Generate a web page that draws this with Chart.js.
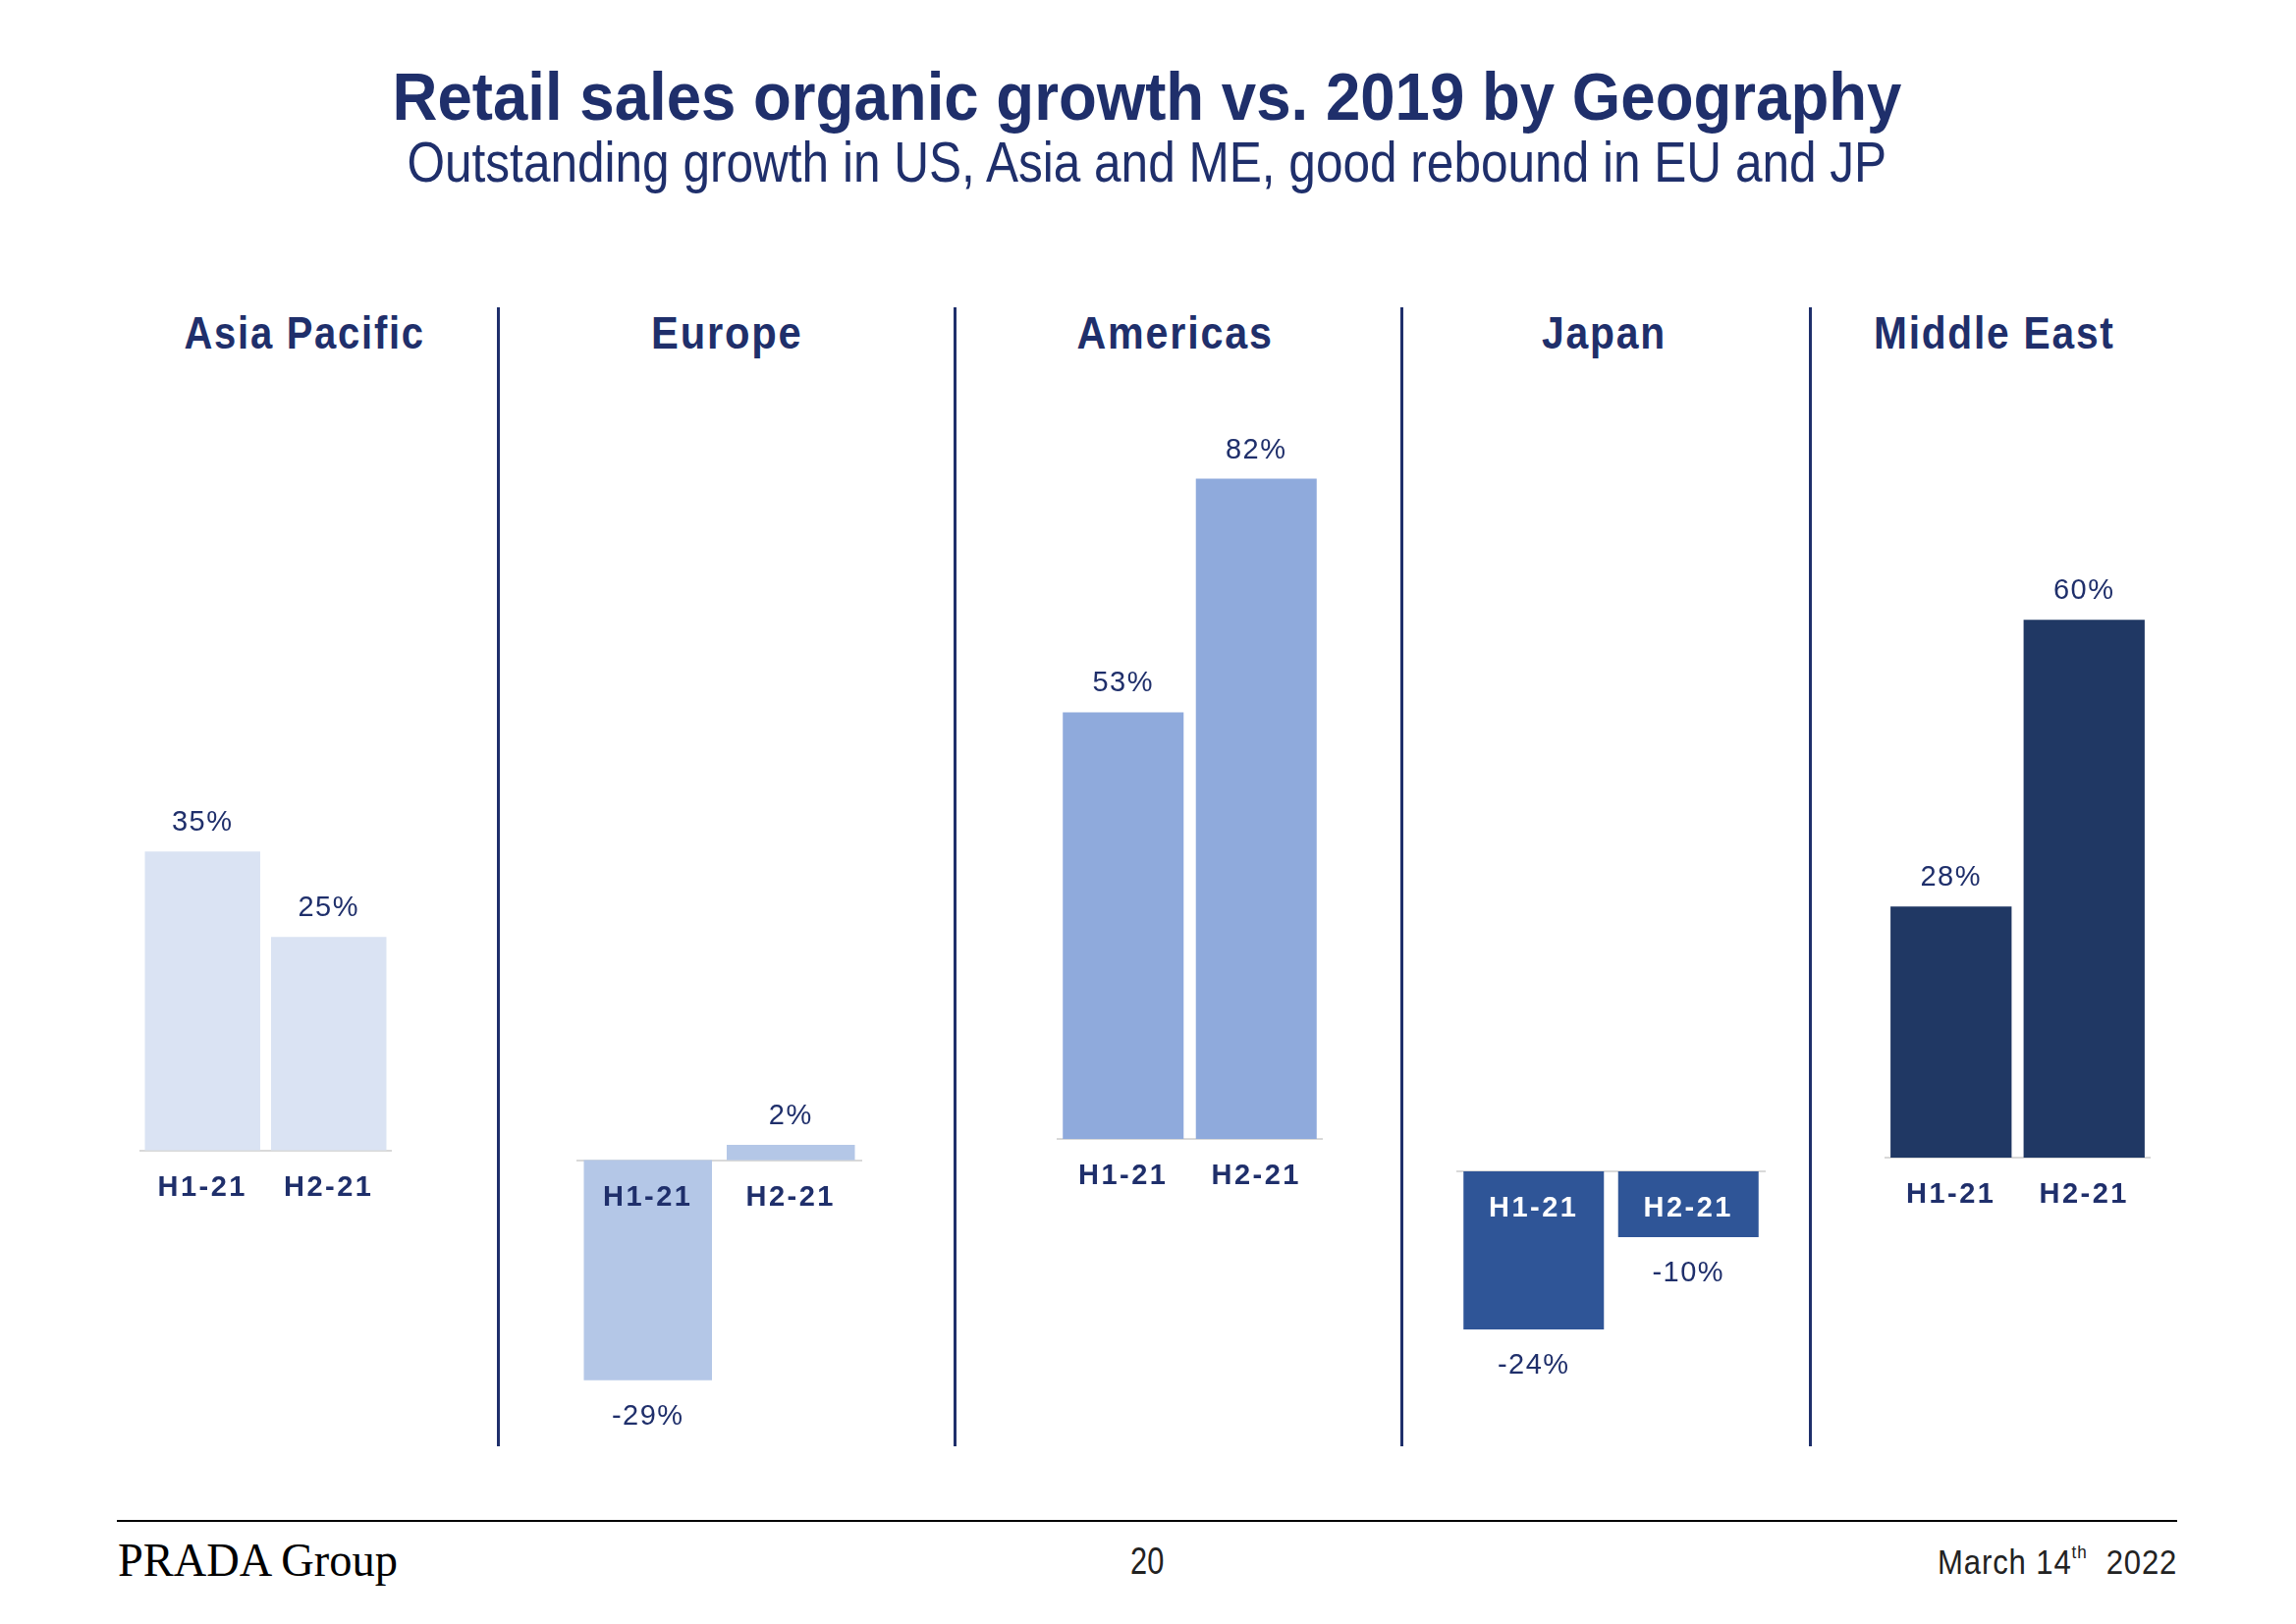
<!DOCTYPE html>
<html><head><meta charset="utf-8">
<script src="https://cdn.jsdelivr.net/npm/chart.js@4.4.1/dist/chart.umd.min.js"></script>
<style>
html,body{margin:0;padding:0;background:#fff;}
#page{position:relative;width:2338px;height:1654px;overflow:hidden;background:#fff;}
.t{position:absolute;white-space:nowrap;display:inline-block;}
.t sup{font-size:0.55em;vertical-align:top;position:relative;top:-0.1em;}
.cv{position:absolute;}
.divider{position:absolute;width:3px;background:#1F2F6B;}
</style></head>
<body><div id="page"></div>
<script>
// ---------- data ----------
const regions = ['Asia Pacific', 'Europe', 'Americas', 'Japan', 'Middle East'];
const periods = ['H1-21', 'H2-21'];
const asiaPacific = [35, 25];
const europe = [-29, 2];
const americas = [53, 82];
const japan = [-24, -10];
const middleEast = [28, 60];
const seriesByRegion = [asiaPacific, europe, americas, japan, middleEast];
const titleText = 'Retail sales organic growth vs. 2019 by Geography';
const subtitleText = 'Outstanding growth in US, Asia and ME, good rebound in EU and JP';

// ---------- layout / style ----------
const NAVY = '#1F2F6B';
const panelTop = 400, panelBottom = 1500;
const panels = [
  {left:142,  right:399,  base:1171.5, ppu:8.69, color:'#DAE3F3', tick:NAVY,      pct:0.914, titleX:310,  titleW:245},
  {left:587,  right:878,  base:1181.5, ppu:7.73, color:'#B4C7E7', tick:NAVY,      pct:0.897, titleX:740,  titleW:154},
  {left:1076, right:1347, base:1160,   ppu:8.2,  color:'#8FAADC', tick:NAVY,      pct:0.908, titleX:1196, titleW:200},
  {left:1483, right:1798, base:1193,   ppu:6.71, color:'#2F5597', tick:'#FFFFFF', pct:0.908, titleX:1633, titleW:127},
  {left:1919, right:2190, base:1179,   ppu:9.13, color:'#203864', tick:NAVY,      pct:0.91,  titleX:2031, titleW:246}
];
const dividerXs = [506, 971, 1426, 1842];

const page = document.getElementById('page');

function addText(html, o) {
  const s = document.createElement('span');
  s.className = 't';
  s.innerHTML = html;
  s.style.font = `${o.weight || 'normal'} ${o.size}px ${o.family}`;
  s.style.lineHeight = '1';
  s.style.color = o.color;
  if (o.ls) s.style.letterSpacing = o.ls + 'px';
  page.appendChild(s);
  const w = s.offsetWidth;
  const k = o.width ? o.width / w : 1;
  let left;
  if (o.cx != null) { left = o.cx - w / 2; s.style.transformOrigin = 'center center'; }
  else if (o.right != null) { left = o.right - w; s.style.transformOrigin = 'right center'; }
  else { left = o.left; s.style.transformOrigin = 'left center'; }
  s.style.left = left + 'px';
  s.style.top = (o.cy - (o.k || 0.49) * o.size) + 'px';
  s.style.transform = `scaleX(${k})`;
}

const SANS = '"Liberation Sans", Arial, sans-serif';
addText(titleText, {cx:1168, cy:97, size:68, weight:'bold', family:SANS, color:NAVY, width:1537});
addText(subtitleText, {cx:1168, cy:164, size:58, family:SANS, color:NAVY, width:1507});

regions.forEach((r, i) => {
  addText(r, {cx:panels[i].titleX, cy:339, size:46, weight:'bold', family:SANS, color:NAVY, ls:2, width:panels[i].titleW});
});

dividerXs.forEach(x => {
  const d = document.createElement('div');
  d.className = 'divider';
  d.style.left = x + 'px'; d.style.top = '313px'; d.style.height = '1160px';
  page.appendChild(d);
});

// footer
const fl = document.createElement('div');
fl.style.cssText = 'position:absolute;left:119px;top:1548px;width:2098px;height:2px;background:#000;';
page.appendChild(fl);
addText('PRADA Group', {left:120, cy:1588, size:49, family:'"Liberation Serif", "Times New Roman", serif', color:'#000', width:285, k:0.5});
addText('20', {cx:1168, cy:1590, size:38, family:SANS, color:'#222', width:34});
addText('March 14<sup>th</sup>&nbsp; 2022', {right:2217, cy:1590, size:35, family:SANS, color:'#222', ls:1, width:244});

// ---------- charts ----------
const valueLabels = {
  id: 'valueLabels',
  beforeDraw(chart) { chart.ctx.letterSpacing = '2.5px'; },
  afterDatasetsDraw(chart) {
    const ctx = chart.ctx;
    const meta = chart.getDatasetMeta(0);
    const data = chart.data.datasets[0].data;
    ctx.save();
    ctx.letterSpacing = '1.5px';
    ctx.font = '29px "Liberation Sans", Arial, sans-serif';
    ctx.fillStyle = NAVY;
    ctx.textAlign = 'center';
    ctx.textBaseline = 'middle';
    meta.data.forEach((bar, i) => {
      const v = data[i];
      const y = v >= 0 ? bar.y - 29 : bar.y + 37;
      ctx.fillText(`${v}%`, bar.x, y);
    });
    ctx.restore();
  }
};

panels.forEach((p, i) => {
  const c = document.createElement('canvas');
  c.className = 'cv';
  const w = p.right - p.left, h = panelBottom - panelTop;
  c.width = w; c.height = h;
  c.style.left = p.left + 'px'; c.style.top = panelTop + 'px';
  c.style.width = w + 'px'; c.style.height = h + 'px';
  page.appendChild(c);
  const yMax = (p.base - panelTop) / p.ppu;
  const yMin = -(panelBottom - p.base) / p.ppu;
  new Chart(c, {
    type: 'bar',
    data: {
      labels: periods,
      datasets: [{
        data: seriesByRegion[i],
        backgroundColor: p.color,
        borderWidth: 0,
        categoryPercentage: p.pct,
        barPercentage: 1
      }]
    },
    options: {
      responsive: false,
      animation: false,
      devicePixelRatio: 1,
      layout: {padding: 0},
      plugins: {legend: {display: false}, tooltip: {enabled: false}},
      scales: {
        y: {display: false, min: yMin, max: yMax},
        x: {
          position: {y: 0},
          grid: {display: false, drawTicks: true, tickLength: 21},
          border: {display: true, color: '#D9D9D9', width: 2},
          ticks: {
            z: 1, padding: 0, color: p.tick, maxRotation: 0, autoSkip: false,
            font: {family: '"Liberation Sans", Arial, sans-serif', size: 29, weight: 'bold'}
          }
        }
      }
    },
    plugins: [valueLabels]
  });
});
</script>
</body></html>
